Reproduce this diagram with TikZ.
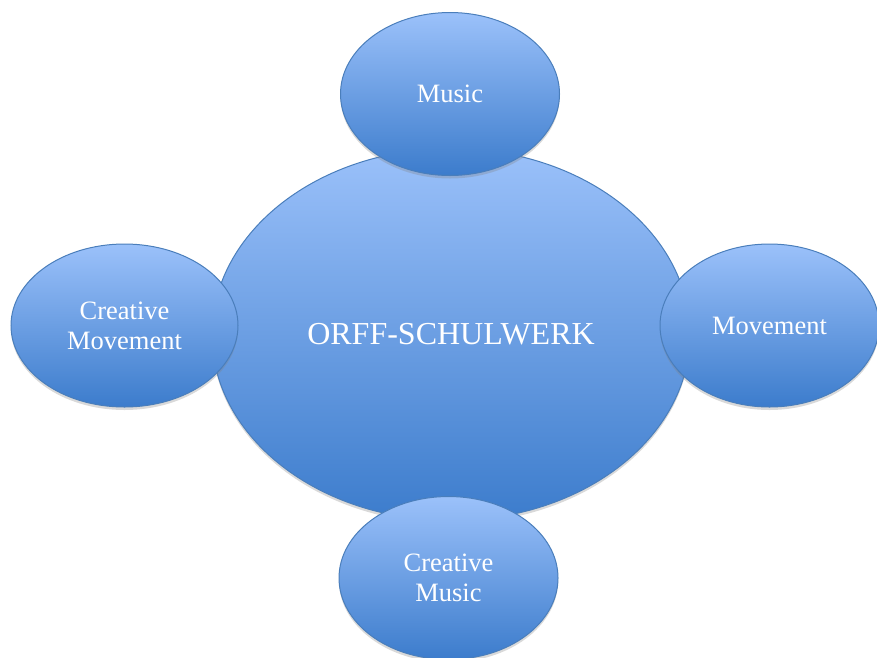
\documentclass[tikz,border=0pt]{standalone}
\usepackage{fontspec}
\setmainfont{Liberation Serif}
\usetikzlibrary{shapes.geometric,shadows}
\definecolor{orfflight}{RGB}{155,193,250}
\definecolor{orffdark}{RGB}{60,124,204}
\definecolor{orffline}{RGB}{74,126,187}

\begin{document}
\begin{tikzpicture}[x=10pt,y=10pt]
\tikzstyle{every node}+=[inner sep=0pt]
\tikzstyle{blob}=[ellipse, draw=orffline, line width=1pt, top color=orfflight, bottom color=orffdark, text=white, align=center, drop shadow={shadow xshift=0pt,shadow yshift=-3pt,opacity=0.3}]
\tikzstyle{hub}=[blob, minimum width=478pt, minimum height=372pt, font=\fontsize{32}{36}\selectfont]
\tikzstyle{leaf}=[blob, minimum width=219pt, minimum height=163pt, font=\fontsize{26.5}{30}\selectfont]
\useasboundingbox (0,0) rectangle (87.7,-65.7);
\node [hub] (orff) at (45.1,-33.45) {ORFF-SCHULWERK};
\node [leaf] (music) at (45.0,-9.4) {Music};
\node [leaf, minimum width=227pt] (cmove) at (12.45,-32.55) {Creative\\Movement};
\node [leaf] (move) at (76.95,-32.55) {Movement};
\node [leaf] (cmusic) at (44.85,-57.8) {Creative\\Music};
\end{tikzpicture}
\end{document}
